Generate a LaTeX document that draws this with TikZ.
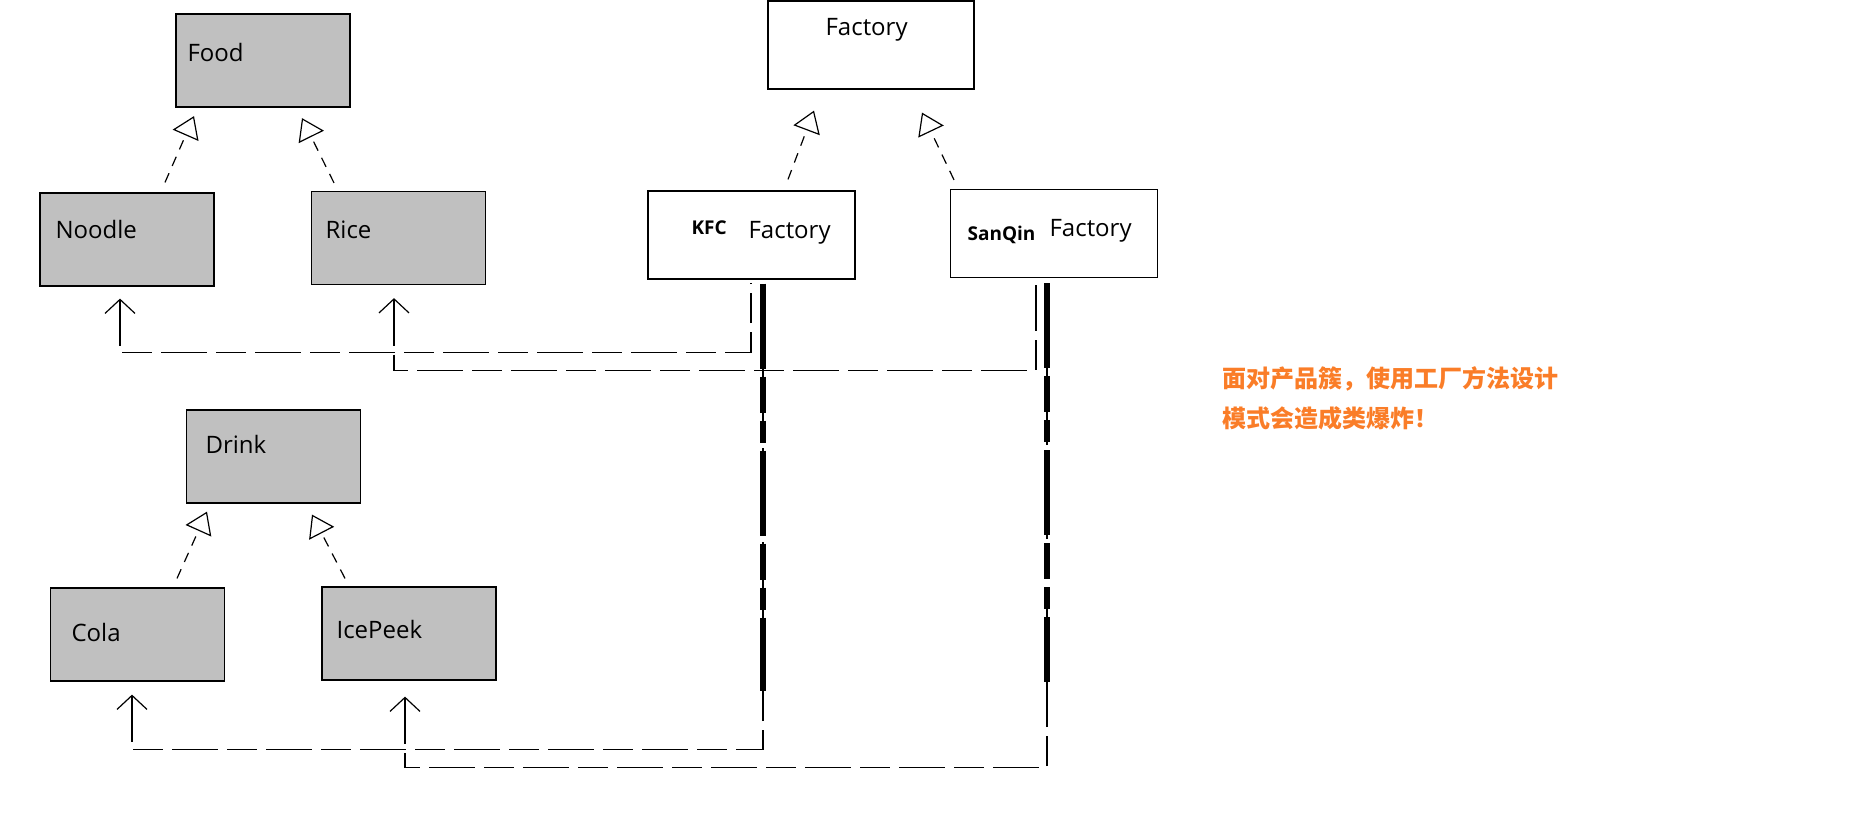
\documentclass[tikz,border=0pt]{standalone}
\usepackage{fontspec}
\setmainfont{Open Sans}
\newfontfamily\cjk{Noto Sans CJK SC}
\usetikzlibrary{arrows.meta}
\definecolor{boxgray}{RGB}{192,192,192}
\definecolor{noteorange}{RGB}{250,125,40}

\begin{document}
\begin{tikzpicture}[x=1pt, y=-1pt, line width=1.2pt,
    cls/.style={draw, fill=boxgray, minimum width=174pt, minimum height=93pt, inner sep=0pt},
    fac/.style={draw, fill=white, minimum width=207pt, minimum height=88pt, inner sep=0pt},
    lbl/.style={anchor=base west, inner sep=0pt, font=\fontsize{24}{28}\selectfont},
    brand/.style={anchor=base west, inner sep=0pt, font=\bfseries\fontsize{19}{23}\selectfont},
    note/.style={anchor=base west, inner sep=0pt, text=noteorange, font=\cjk\bfseries\fontsize{24}{28}\selectfont},
    inh/.style={dash pattern=on 10pt off 8pt, -{Triangle[length=21pt, width=28pt, fill=white]}},
    dep/.style={dash pattern=on 46pt off 9pt on 30pt off 9pt, {Straight Barb[length=14pt, width=30pt]}-},
    heavy/.style={line width=5.5pt, dash pattern=on 85pt off 8pt on 36pt off 8pt on 22pt off 8pt}]
    \useasboundingbox (0,0) rectangle (1852,828);

    \node[cls] (food) at (263, 60.5) {};
    \node[cls] (noodle) at (127, 239.5) {};
    \node[cls] (rice) at (398.5, 238) {};
    \node[lbl] (foodtxt) at (187, 61) {Food};
    \node[lbl] (noodletxt) at (55, 238) {Noodle};
    \node[lbl] (ricetxt) at (325, 238) {Rice};

    \node[cls] (drink) at (273.5, 456.5) {};
    \node[cls] (cola) at (137.5, 634.5) {};
    \node[cls] (icepeek) at (409, 633.5) {};
    \node[lbl] (drinktxt) at (205, 453) {Drink};
    \node[lbl] (colatxt) at (71, 641) {Cola};
    \node[lbl] (icepeektxt) at (336, 638) {IcePeek};

    \node[fac, minimum width=206pt] (factory) at (871, 45) {};
    \node[fac] (kfc) at (751.5, 235) {};
    \node[fac] (sanqin) at (1054, 233.5) {};
    \node[lbl] (factorytxt) at (825, 35) {Factory};
    \node[brand] (kfcbrand) at (691, 234) {KFC};
    \node[lbl] (kfctxt) at (748, 238) {Factory};
    \node[brand] (sanqinbrand) at (967, 240) {SanQin};
    \node[lbl] (sanqintxt) at (1049, 236) {Factory};

    \draw[inh] ([shift={(38,-10)}]noodle.north) -- ([shift={(-69,8.5)}]food.south);
    \draw[inh] ([shift={(-64.5,-8)}]rice.north) -- ([shift={(39,10.5)}]food.south);
    \draw[inh] ([shift={(39.5,-9)}]cola.north) -- ([shift={(-66.5,8)}]drink.south);
    \draw[inh] ([shift={(-64,-8)}]icepeek.north) -- ([shift={(38.5,11)}]drink.south);
    \draw[inh] ([shift={(36.5,-11)}]kfc.north) -- ([shift={(-57,21)}]factory.south);
    \draw[inh] ([shift={(-100,-9)}]sanqin.north) -- ([shift={(51,23)}]factory.south);

    \draw[dep] ([shift={(-7,12)}]noodle.south) -- ([shift={(-7,66)}]noodle.south) -| ([shift={(-0.5,3)}]kfc.south);
    \draw[dep] ([shift={(-4.5,13)}]rice.south) -- ([shift={(-4.5,85)}]rice.south) -| ([shift={(-18,5)}]sanqin.south);
    \draw[dep] ([shift={(-5.5,13)}]cola.south) -- ([shift={(-5.5,68)}]cola.south) -| ([shift={(11.5,4)}]kfc.south);
    \draw[dep] ([shift={(-4,16)}]icepeek.south) -- ([shift={(-4,87)}]icepeek.south) -| ([shift={(-7,5)}]sanqin.south);

    \draw[heavy] ([shift={(11.5,4)}]kfc.south) -- ++(0,407);
    \draw[heavy] ([shift={(-7,5)}]sanqin.south) -- ++(0,399);

    \node[note] (note1) at (1222, 387) {面对产品簇，使用工厂方法设计};
    \node[note] (note2) at (1222, 427) {模式会造成类爆炸！};
\end{tikzpicture}
\end{document}
